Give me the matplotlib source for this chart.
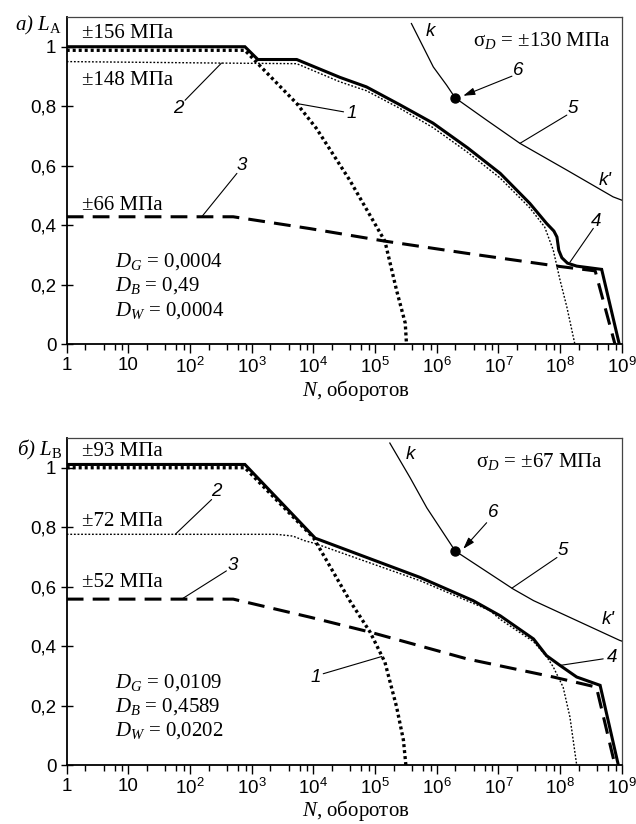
import numpy as np
import matplotlib
matplotlib.use('Agg')
import matplotlib.pyplot as plt
from matplotlib.ticker import FixedLocator, NullFormatter

plt.rcParams['mathtext.fontset'] = 'custom'
plt.rcParams['mathtext.rm'] = 'Liberation Serif'
plt.rcParams['mathtext.it'] = 'Liberation Serif:italic'
plt.rcParams['mathtext.sf'] = 'Liberation Sans'
plt.rcParams['font.family'] = ['Liberation Sans', 'DejaVu Sans']

# ---------------- data (log10 N, L) ----------------
# panel a
a_c1_logN = [0, 2.89, 3.10, 3.73, 4.05, 4.59, 5.16, 5.35, 5.49, 5.51]
a_c1_L    = [0.988, 0.988, 0.943, 0.809, 0.725, 0.551, 0.346, 0.18, 0.07, 0.0]
a_c2_logN = [0, 2.5, 3.73, 4.43, 4.86, 5.4, 5.94, 6.5, 7.03, 7.51, 7.75, 7.89, 8.0, 8.11, 8.24]
a_c2_L    = [0.95, 0.945, 0.943, 0.882, 0.852, 0.793, 0.728, 0.645, 0.558, 0.458, 0.394, 0.316, 0.215, 0.125, 0.0]
a_c3_logN = [0, 2.7, 3.95, 5.16, 6.49, 7.95, 8.57, 8.89]
a_c3_L    = [0.428, 0.428, 0.388, 0.346, 0.305, 0.262, 0.246, 0.0]
a_c4_logN = [0, 2.89, 3.10, 3.73, 4.43, 4.86, 5.4, 5.94, 6.5, 7.03, 7.51, 7.78, 7.9, 7.95, 7.98, 8.03, 8.12, 8.27, 8.675, 8.96]
a_c4_L    = [1.0, 1.0, 0.957, 0.957, 0.897, 0.865, 0.805, 0.743, 0.66, 0.574, 0.473, 0.406, 0.38, 0.36, 0.315, 0.29, 0.272, 0.262, 0.251, 0.0]
a_c5_logN = [5.59, 5.945, 6.16, 6.30, 6.81, 7.35, 8.11, 8.86, 9.0]
a_c5_L    = [1.078, 0.932, 0.871, 0.828, 0.753, 0.675, 0.585, 0.495, 0.484]
a_p6 = (6.30, 0.828)
a_amp = ['±156 МПа', '±148 МПа', '±66 МПа']
a_sigma = '±130 МПа'
a_D = ['0,0004', '0,49', '0,0004']

# panel b
b_c1_logN = [0, 2.89, 4.0, 4.59, 4.92, 5.16, 5.35, 5.46, 5.50]
b_c1_L    = [1.0, 1.0, 0.765, 0.553, 0.447, 0.346, 0.195, 0.084, 0.0]
b_c2_logN = [0, 3.4, 3.67, 3.85, 4.03, 5.73, 6.86, 7.03, 7.57, 7.78, 7.89, 8.05, 8.16, 8.27]
b_c2_L    = [0.776, 0.776, 0.77, 0.755, 0.745, 0.62, 0.52, 0.49, 0.415, 0.365, 0.33, 0.262, 0.162, 0.0]
b_c3_logN = [0, 2.7, 3.95, 4.92, 6.49, 7.89, 8.59, 8.89]
b_c3_L    = [0.558, 0.558, 0.497, 0.447, 0.357, 0.296, 0.262, 0.0]
b_c4_logN = [0, 2.89, 4.03, 5.73, 6.59, 7.03, 7.57, 7.78, 8.0, 8.27, 8.65, 8.945]
b_c4_L    = [1.011, 1.011, 0.763, 0.631, 0.553, 0.502, 0.424, 0.368, 0.335, 0.296, 0.268, 0.0]
b_c5_logN = [5.24, 5.57, 5.84, 6.30, 7.24, 7.57, 8.97, 9.0]
b_c5_L    = [1.083, 0.966, 0.865, 0.720, 0.592, 0.553, 0.419, 0.417]
b_p6 = (6.30, 0.720)
b_amp = ['±93 МПа', '±72 МПа', '±52 МПа']
b_sigma = '±67 МПа'
b_D = ['0,0109', '0,4589', '0,0202']

x_ticks = [1, 10, 1e2, 1e3, 1e4, 1e5, 1e6, 1e7, 1e8, 1e9]
x_ticklabels = ['1', '10'] + [r'$\mathsf{10^{%d}}$' % k for k in range(2, 10)]
y_ticks = [0, 0.2, 0.4, 0.6, 0.8, 1.0]
y_ticklabels = ['0', '0,2', '0,4', '0,6', '0,8', '1']

W, H = 636, 824
fig = plt.figure(figsize=(W / 100, H / 100), dpi=100)

SERIF = 'Liberation Serif'
SANS = 'Liberation Sans'
FS = 15


def P(v):
    return 10 ** np.asarray(v, dtype=float)


def panel(ax, c1, c2, c3, c4, c5, p6, amp, amp_y, sigma, D, ann):
    ax.set_xscale('log')
    ax.set_xlim(1, 1e9)
    ax.set_ylim(0, 1.1)
    ax.plot(P(c2[0]), c2[1], color='k', lw=1.0, ls=(0, (1.3, 1.3)), zorder=3)
    ax.plot(P(c1[0]), c1[1], color='k', lw=2.4, ls=(0, (0.9, 0.9)), zorder=3)
    ax.plot(P(c3[0]), c3[1], color='k', lw=2.2, ls=(0, (5.5, 3.0)), zorder=3)
    ax.plot(P(c4[0]), c4[1], color='k', lw=2.2, solid_joinstyle='miter', zorder=4)
    ax.plot(P(c5[0]), c5[1], color='k', lw=0.9, zorder=3)
    ax.plot([10 ** p6[0]], [p6[1]], 'o', color='k', ms=6.5, zorder=5)

    # ticks
    ax.xaxis.set_major_locator(FixedLocator(x_ticks))
    ax.set_xticklabels(x_ticklabels)
    minors = [m * 10 ** d for d in range(0, 9) for m in (2, 4, 6, 8)]
    ax.xaxis.set_minor_locator(FixedLocator(minors))
    ax.xaxis.set_minor_formatter(NullFormatter())
    ax.tick_params(axis='x', which='major', direction='out', length=6.5, width=1.0,
                   labelsize=13.5, pad=3, top=False)
    ax.tick_params(axis='x', which='minor', direction='out', length=4.5, width=1.0, top=False)
    ax.set_yticks(y_ticks)
    ax.set_yticklabels(y_ticklabels)
    ax.tick_params(axis='y', which='major', direction='inout', length=9, width=1.0,
                   labelsize=13.5, pad=3, right=False)
    for s in ('left', 'bottom'):
        ax.spines[s].set_linewidth(1.3)
    for s in ('top', 'right'):
        ax.spines[s].set_linewidth(0.9)
        ax.spines[s].set_color('#444444')

    for t, yv in zip(amp, amp_y):
        ax.text(1.75, yv, t, family=SERIF, fontsize=FS, va='center', ha='left')
    ax.text(10 ** ann['sig'][0], ann['sig'][1], r'$\mathrm{σ}_{D}$ = ' + sigma,
            family=SERIF, fontsize=FS, va='center', ha='right')
    for i, (sub, val) in enumerate(zip(['G', 'B', 'W'], D)):
        ax.text(6.1, ann['D'][i], r'$D_{%s}$ = %s' % (sub, val), family=SERIF,
                fontsize=FS, va='center', ha='left')
    # numbered labels with leaders
    for lab, (tx, ty), (sx, sy), (ex, ey) in ann['leaders']:
        ax.text(10 ** tx, ty, lab, family=SANS, style='italic', fontsize=13.5,
                va='center', ha='center')
        ax.annotate('', xy=(10 ** ex, ey), xytext=(10 ** sx, sy),
                    arrowprops=dict(arrowstyle='-', lw=0.8, color='k',
                                    shrinkA=0, shrinkB=0))
    lab, (tx, ty), (sx, sy) = ann['six']
    ax.text(10 ** tx, ty, lab, family=SANS, style='italic', fontsize=13.5,
            va='center', ha='center')
    ax.annotate('', xy=(10 ** p6[0] * 1.35, p6[1] + 0.007), xytext=(10 ** sx, sy),
                arrowprops=dict(arrowstyle='-|>,head_length=0.7,head_width=0.22', lw=0.8,
                                color='k', shrinkA=0, shrinkB=0))
    ax.text(10 ** ann['k'][0], ann['k'][1], 'k', family=SANS, style='italic',
            fontsize=13.5, va='center', ha='center')
    ax.text(10 ** ann['kp'][0], ann['kp'][1], "k'", family=SANS, style='italic',
            fontsize=13.5, va='center', ha='center')


L = 66.7 / W
Wd = 555 / W
axA = fig.add_axes([L, 1 - 344 / H, Wd, 327 / H])
axB = fig.add_axes([L, 1 - 765 / H, Wd, 327 / H])

annA = dict(
    sig=(8.82, 1.022),
    D=[0.277, 0.195, 0.114],
    leaders=[
        ('2', (1.81, 0.792), (1.92, 0.82), (2.51, 0.945)),
        ('3', (2.84, 0.602), (2.76, 0.574), (2.19, 0.428)),
        ('1', (4.62, 0.775), (4.49, 0.781), (3.73, 0.809)),
        ('4', (8.59, 0.411), (8.54, 0.389), (8.16, 0.275)),
        ('5', (8.21, 0.792), (8.11, 0.77), (7.35, 0.675)),
    ],
    six=('6', (7.32, 0.921), (7.22, 0.901)),
    k=(5.89, 1.05), kp=(8.73, 0.551),
)
annB = dict(
    sig=(8.69, 1.022),
    D=[0.279, 0.195, 0.115],
    leaders=[
        ('2', (2.43, 0.921), (2.35, 0.893), (1.76, 0.776)),
        ('3', (2.70, 0.670), (2.59, 0.653), (1.865, 0.558)),
        ('1', (4.03, 0.296), (4.16, 0.307), (5.11, 0.365)),
        ('4', (8.84, 0.363), (8.70, 0.357), (8.0, 0.335)),
        ('5', (8.05, 0.720), (7.95, 0.698), (7.22, 0.595)),
    ],
    six=('6', (6.92, 0.849), (6.81, 0.815)),
    k=(5.57, 1.044), kp=(8.78, 0.491),
)

panel(axA, (a_c1_logN, a_c1_L), (a_c2_logN, a_c2_L), (a_c3_logN, a_c3_L),
      (a_c4_logN, a_c4_L), (a_c5_logN, a_c5_L), a_p6, a_amp,
      [1.044, 0.887, 0.467], a_sigma, a_D, annA)
panel(axB, (b_c1_logN, b_c1_L), (b_c2_logN, b_c2_L), (b_c3_logN, b_c3_L),
      (b_c4_logN, b_c4_L), (b_c5_logN, b_c5_L), b_p6, b_amp,
      [1.053, 0.818, 0.614], b_sigma, b_D, annB)

# panel labels & axis titles
fig.text(62 / W, 1 - 25 / H, r'а) $L_{\mathrm{A}}$', family=SERIF, style='italic',
         fontsize=FS, ha='right', va='center')
fig.text(62 / W, 1 - 450 / H, r'б) $L_{\mathrm{B}}$', family=SERIF, style='italic',
         fontsize=FS, ha='right', va='center')
fig.text(356 / W, 1 - 396 / H, r'$N$, оборотов', family=SERIF, fontsize=FS,
         ha='center', va='baseline')
fig.text(356 / W, 1 - 816 / H, r'$N$, оборотов', family=SERIF, fontsize=FS,
         ha='center', va='baseline')

fig.savefig('out.png', dpi=100)
